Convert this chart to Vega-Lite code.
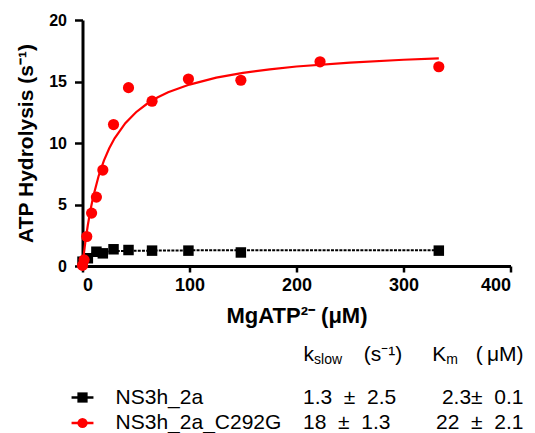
{
  "$schema": "https://vega.github.io/schema/vega-lite/v6.json",
  "padding": {"left": 15.5, "top": 12, "right": 0, "bottom": 0},
  "config": {"view": {"stroke": null}, "font": "Liberation Sans"},
  "datasets": {
    "points": [
      {"series": "NS3h_2a", "conc": 0, "rate": 0.35},
      {"series": "NS3h_2a", "conc": 5, "rate": 0.63},
      {"series": "NS3h_2a", "conc": 13, "rate": 1.16},
      {"series": "NS3h_2a", "conc": 19, "rate": 1.03},
      {"series": "NS3h_2a", "conc": 29, "rate": 1.36},
      {"series": "NS3h_2a", "conc": 43, "rate": 1.3},
      {"series": "NS3h_2a", "conc": 65, "rate": 1.25},
      {"series": "NS3h_2a", "conc": 99, "rate": 1.25},
      {"series": "NS3h_2a", "conc": 148, "rate": 1.1},
      {"series": "NS3h_2a", "conc": 333, "rate": 1.25},
      {"series": "NS3h_2a_C292G", "conc": 0, "rate": 0.05},
      {"series": "NS3h_2a_C292G", "conc": 1.5, "rate": 0.5},
      {"series": "NS3h_2a_C292G", "conc": 4, "rate": 2.4},
      {"series": "NS3h_2a_C292G", "conc": 8.5, "rate": 4.3},
      {"series": "NS3h_2a_C292G", "conc": 13, "rate": 5.6},
      {"series": "NS3h_2a_C292G", "conc": 19, "rate": 7.8},
      {"series": "NS3h_2a_C292G", "conc": 29, "rate": 11.5},
      {"series": "NS3h_2a_C292G", "conc": 43, "rate": 14.5},
      {"series": "NS3h_2a_C292G", "conc": 65, "rate": 13.4},
      {"series": "NS3h_2a_C292G", "conc": 99, "rate": 15.2},
      {"series": "NS3h_2a_C292G", "conc": 148, "rate": 15.1},
      {"series": "NS3h_2a_C292G", "conc": 222, "rate": 16.6},
      {"series": "NS3h_2a_C292G", "conc": 333, "rate": 16.2}
    ],
    "fit": [
      {"series": "NS3h_2a", "conc": 0, "rate": 0},
      {"series": "NS3h_2a", "conc": 0.5, "rate": 0.23},
      {"series": "NS3h_2a", "conc": 1, "rate": 0.39},
      {"series": "NS3h_2a", "conc": 2, "rate": 0.6},
      {"series": "NS3h_2a", "conc": 3, "rate": 0.74},
      {"series": "NS3h_2a", "conc": 5, "rate": 0.89},
      {"series": "NS3h_2a", "conc": 7.5, "rate": 0.99},
      {"series": "NS3h_2a", "conc": 10, "rate": 1.06},
      {"series": "NS3h_2a", "conc": 15, "rate": 1.13},
      {"series": "NS3h_2a", "conc": 20, "rate": 1.17},
      {"series": "NS3h_2a", "conc": 30, "rate": 1.21},
      {"series": "NS3h_2a", "conc": 50, "rate": 1.24},
      {"series": "NS3h_2a", "conc": 100, "rate": 1.27},
      {"series": "NS3h_2a", "conc": 200, "rate": 1.285},
      {"series": "NS3h_2a", "conc": 333, "rate": 1.29},
      {"series": "NS3h_2a_C292G", "conc": 0, "rate": 0},
      {"series": "NS3h_2a_C292G", "conc": 1, "rate": 0.78},
      {"series": "NS3h_2a_C292G", "conc": 2, "rate": 1.5},
      {"series": "NS3h_2a_C292G", "conc": 3, "rate": 2.16},
      {"series": "NS3h_2a_C292G", "conc": 5, "rate": 3.33},
      {"series": "NS3h_2a_C292G", "conc": 7.5, "rate": 4.58},
      {"series": "NS3h_2a_C292G", "conc": 10, "rate": 5.63},
      {"series": "NS3h_2a_C292G", "conc": 15, "rate": 7.3},
      {"series": "NS3h_2a_C292G", "conc": 20, "rate": 8.57},
      {"series": "NS3h_2a_C292G", "conc": 25, "rate": 9.57},
      {"series": "NS3h_2a_C292G", "conc": 30, "rate": 10.38},
      {"series": "NS3h_2a_C292G", "conc": 40, "rate": 11.61},
      {"series": "NS3h_2a_C292G", "conc": 50, "rate": 12.5},
      {"series": "NS3h_2a_C292G", "conc": 60, "rate": 13.17},
      {"series": "NS3h_2a_C292G", "conc": 70, "rate": 13.7},
      {"series": "NS3h_2a_C292G", "conc": 80, "rate": 14.12},
      {"series": "NS3h_2a_C292G", "conc": 100, "rate": 14.75},
      {"series": "NS3h_2a_C292G", "conc": 125, "rate": 15.31},
      {"series": "NS3h_2a_C292G", "conc": 150, "rate": 15.7},
      {"series": "NS3h_2a_C292G", "conc": 175, "rate": 15.99},
      {"series": "NS3h_2a_C292G", "conc": 200, "rate": 16.22},
      {"series": "NS3h_2a_C292G", "conc": 250, "rate": 16.54},
      {"series": "NS3h_2a_C292G", "conc": 300, "rate": 16.77},
      {"series": "NS3h_2a_C292G", "conc": 333, "rate": 16.88}
    ],
    "table": [
      {"row": "r1", "col": "symbol", "part": "symbol", "series": "NS3h_2a", "text": ""},
      {"row": "r2", "col": "symbol", "part": "symbol", "series": "NS3h_2a_C292G", "text": ""},
      {"row": "r1", "col": "name", "part": "name", "series": "NS3h_2a", "text": "NS3h_2a"},
      {"row": "r2", "col": "name", "part": "name", "series": "NS3h_2a_C292G", "text": "NS3h_2a_C292G"},
      {"row": "header", "col": "kslow_sub", "part": "main", "text": "k"},
      {"row": "header", "col": "kslow_sub", "part": "sub", "text": "slow"},
      {"row": "header", "col": "kslow_unit", "part": "unit", "text": "(s⁻¹)"},
      {"row": "header", "col": "Km_sub", "part": "main", "text": "K"},
      {"row": "header", "col": "Km_sub", "part": "sub", "text": "m"},
      {"row": "header", "col": "Km_end", "part": "unit", "text": "(\u2009μM)"},
      {"row": "r1", "col": "kslow", "part": "valL", "text": "1.3\u00a0\u00a0±\u00a0\u00a02.5"},
      {"row": "r2", "col": "kslow", "part": "valL", "text": "18\u00a0\u00a0±\u00a0\u00a01.3"},
      {"row": "r1", "col": "Km_end", "part": "valR", "text": "2.3±\u00a0\u00a00.1"},
      {"row": "r2", "col": "Km_end", "part": "valR", "text": "22\u00a0\u00a0±\u00a0\u00a02.1"}
    ]
  },
  "vconcat": [
    {
      "width": 428,
      "height": 246,
      "layer": [
        {
          "data": {"name": "fit"},
          "transform": [{"filter": "datum.series === 'NS3h_2a'"}],
          "mark": {"type": "line", "color": "black", "strokeWidth": 2, "strokeDash": [3, 1.2]},
          "encoding": {
            "x": {"field": "conc", "type": "quantitative"},
            "y": {"field": "rate", "type": "quantitative"}
          }
        },
        {
          "data": {"name": "points"},
          "transform": [{"filter": "datum.series === 'NS3h_2a'"}],
          "mark": {"type": "point", "shape": "square", "filled": true, "opacity": 1, "color": "black", "size": 110},
          "encoding": {
            "x": {"field": "conc", "type": "quantitative"},
            "y": {"field": "rate", "type": "quantitative"}
          }
        },
        {
          "data": {"name": "fit"},
          "transform": [{"filter": "datum.series === 'NS3h_2a_C292G'"}],
          "mark": {"type": "line", "color": "#ff0000", "strokeWidth": 2.2},
          "encoding": {
            "x": {"field": "conc", "type": "quantitative"},
            "y": {"field": "rate", "type": "quantitative"}
          }
        },
        {
          "data": {"name": "points"},
          "transform": [{"filter": "datum.series === 'NS3h_2a_C292G'"}],
          "mark": {"type": "point", "shape": "circle", "filled": true, "opacity": 1, "color": "#ff0000", "size": 125},
          "encoding": {
            "x": {
              "field": "conc", "type": "quantitative",
              "scale": {"domain": [0, 400], "nice": false},
              "axis": {
                "values": [0, 100, 200, 300, 400],
                "title": "MgATP²⁻ (μM)",
                "grid": false,
                "domainColor": "black", "domainWidth": 3,
                "tickColor": "black", "tickWidth": 2.5, "tickSize": 6,
                "labelFont": "Liberation Sans", "labelFontSize": 18, "labelFontWeight": "bold", "labelColor": "black", "labelPadding": 4,
                "titleFont": "Liberation Sans", "titleFontSize": 22, "titleFontWeight": "bold", "titleColor": "black", "titlePadding": 11
              }
            },
            "y": {
              "field": "rate", "type": "quantitative",
              "scale": {"domain": [0, 20], "nice": false},
              "axis": {
                "values": [0, 5, 10, 15, 20],
                "title": "ATP Hydrolysis (s⁻¹)",
                "grid": false,
                "domainColor": "black", "domainWidth": 3,
                "tickColor": "black", "tickWidth": 2.5, "tickSize": 8,
                "labelFont": "Liberation Sans", "labelFontSize": 16, "labelFontWeight": "bold", "labelColor": "black", "labelPadding": 8,
                "titleFont": "Liberation Sans", "titleFontSize": 21, "titleFontWeight": "bold", "titleColor": "black", "titlePadding": 12
              }
            }
          }
        }
      ]
    },
    {
      "width": 441,
      "height": 68,
      "data": {"name": "table"},
      "encoding": {
        "x": {
          "field": "col", "type": "nominal",
          "scale": {"type": "point", "padding": 0, "domain": ["symbol", "g1", "g2", "name", "g4", "g5", "g6", "g7", "g8", "g9", "g10", "g11", "g12", "g13", "g14", "g15", "g16", "g17", "g18", "g19", "kslow", "kslow_sub", "g22", "g23", "g24", "g25", "g26", "g27", "g28", "kslow_unit", "g30", "g31", "g32", "Km_sub", "g34", "g35", "g36", "g37", "g38", "g39", "Km_end"]},
          "axis": null
        },
        "y": {
          "field": "row", "type": "nominal",
          "scale": {"type": "point", "padding": 0, "domain": ["header", "h1", "h2", "h3", "h4", "r1", "h6", "h7", "r2"]},
          "axis": null
        }
      },
      "layer": [
        {
          "transform": [{"filter": "datum.part === 'symbol'"}],
          "mark": {"type": "point", "shape": "M-1,0H1", "filled": false, "strokeWidth": 2.5, "size": 480, "opacity": 1},
          "encoding": {
            "color": {"field": "series", "type": "nominal", "scale": {"domain": ["NS3h_2a", "NS3h_2a_C292G"], "range": ["black", "#ff0000"]}, "legend": null}
          }
        },
        {
          "transform": [{"filter": "datum.part === 'symbol'"}],
          "mark": {"type": "point", "filled": true, "size": 105, "opacity": 1},
          "encoding": {
            "color": {"field": "series", "type": "nominal", "scale": {"domain": ["NS3h_2a", "NS3h_2a_C292G"], "range": ["black", "#ff0000"]}, "legend": null},
            "shape": {"field": "series", "type": "nominal", "scale": {"domain": ["NS3h_2a", "NS3h_2a_C292G"], "range": ["square", "circle"]}, "legend": null}
          }
        },
        {
          "transform": [{"filter": "datum.part === 'name'"}],
          "mark": {"type": "text", "align": "left", "baseline": "middle", "fontSize": 21, "color": "black"},
          "encoding": {"text": {"field": "text"}}
        },
        {
          "transform": [{"filter": "datum.part === 'main'"}],
          "mark": {"type": "text", "align": "right", "baseline": "middle", "fontSize": 21, "color": "black"},
          "encoding": {"text": {"field": "text"}}
        },
        {
          "transform": [{"filter": "datum.part === 'sub'"}],
          "mark": {"type": "text", "align": "left", "baseline": "middle", "fontSize": 14, "dy": 5, "color": "black"},
          "encoding": {"text": {"field": "text"}}
        },
        {
          "transform": [{"filter": "datum.part === 'unit' || datum.part === 'valR'"}],
          "mark": {"type": "text", "align": "right", "baseline": "middle", "fontSize": 21, "color": "black"},
          "encoding": {"text": {"field": "text"}}
        },
        {
          "transform": [{"filter": "datum.part === 'valL'"}],
          "mark": {"type": "text", "align": "left", "baseline": "middle", "fontSize": 21, "color": "black"},
          "encoding": {"text": {"field": "text"}}
        }
      ]
    }
  ],
  "bounds": "flush",
  "spacing": 89,
  "resolve": {"scale": {"x": "independent", "y": "independent", "color": "independent", "shape": "independent"}}
}
